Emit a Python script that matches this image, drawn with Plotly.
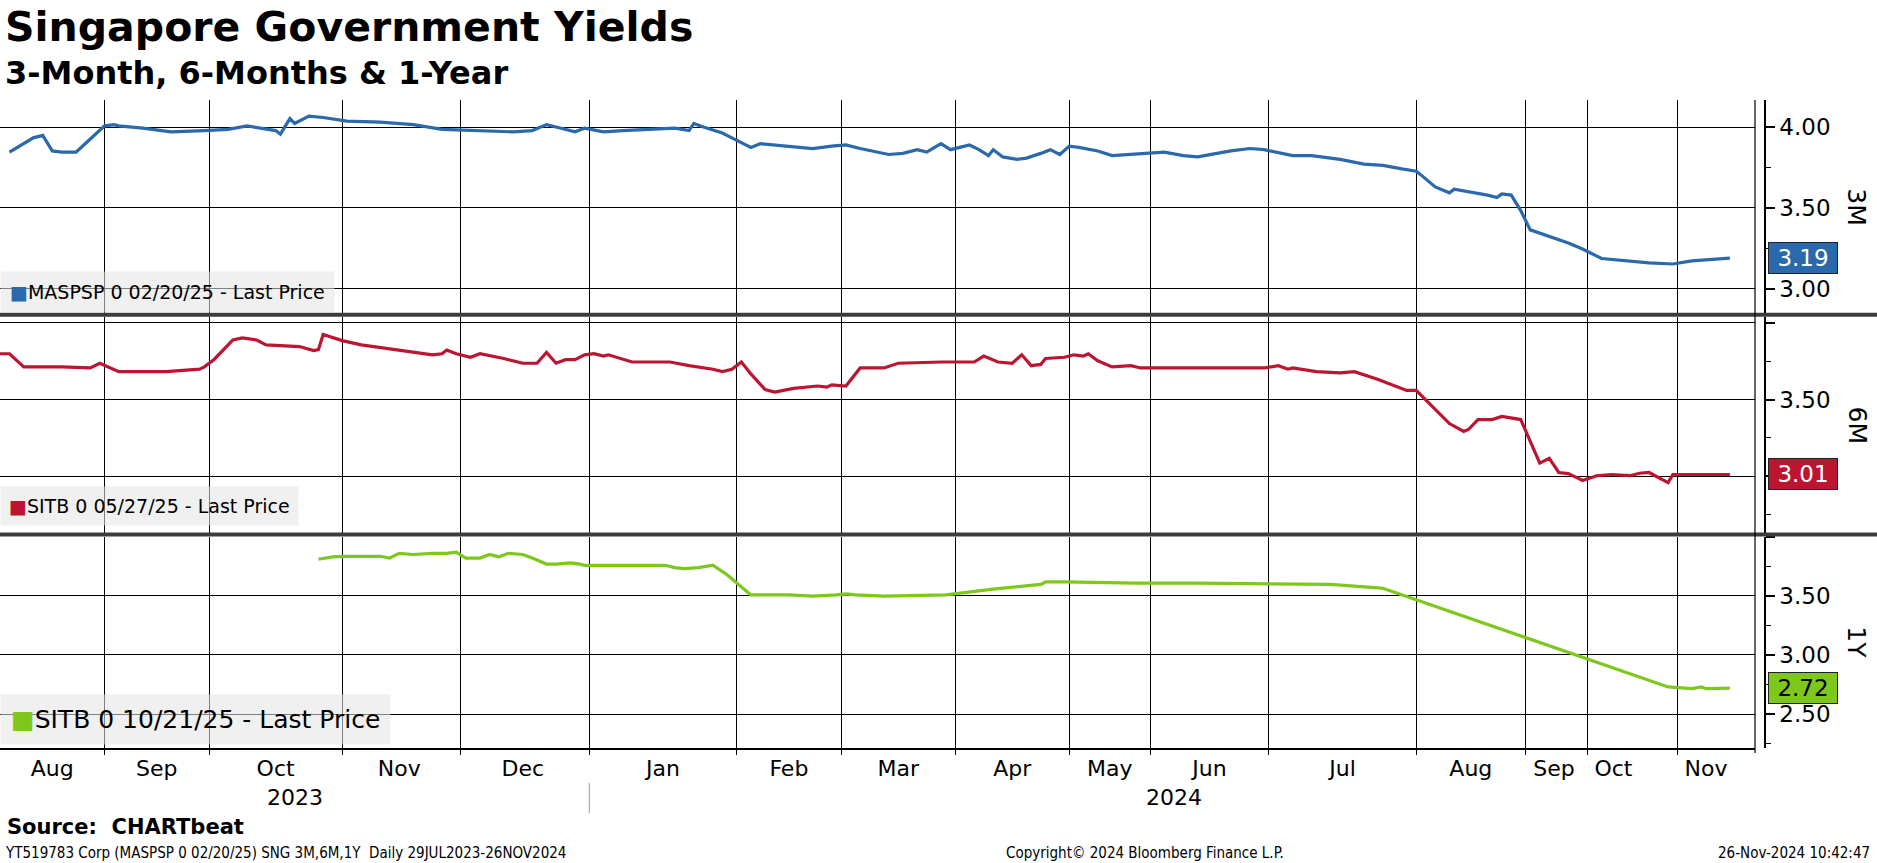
import plotly.graph_objects as go
from plotly.subplots import make_subplots

# ---------------- data ----------------
m3_dates = ["2023-07-31","2023-08-05","2023-08-07","2023-08-09","2023-08-11","2023-08-14","2023-08-17",
            "2023-09-01","2023-09-03","2023-09-04","2023-09-09","2023-09-15","2023-09-22",
            "2023-10-05","2023-10-09","2023-10-12","2023-10-15","2023-10-16","2023-10-18","2023-10-19",
            "2023-10-22","2023-10-25","2023-10-28",
            "2023-11-02","2023-11-09","2023-11-16","2023-11-22",
            "2023-12-05","2023-12-12","2023-12-16","2023-12-19","2023-12-21","2023-12-25","2023-12-27",
            "2024-01-04","2024-01-08","2024-01-14","2024-01-19","2024-01-22","2024-01-23","2024-01-25",
            "2024-01-29","2024-01-31",
            "2024-02-02","2024-02-04","2024-02-06","2024-02-12","2024-02-17","2024-02-21",
            "2024-03-02","2024-03-05","2024-03-11","2024-03-14","2024-03-17","2024-03-19","2024-03-22","2024-03-24",
            "2024-04-04","2024-04-06","2024-04-08","2024-04-09","2024-04-11","2024-04-14","2024-04-16",
            "2024-04-19","2024-04-21","2024-04-23",
            "2024-05-01","2024-05-03","2024-05-07","2024-05-10","2024-05-16",
            "2024-06-04","2024-06-08","2024-06-11","2024-06-18","2024-06-22","2024-06-25",
            "2024-07-06","2024-07-10","2024-07-16","2024-07-21","2024-07-25","2024-07-29","2024-07-31",
            "2024-08-01","2024-08-02","2024-08-05","2024-08-08","2024-08-09","2024-08-16","2024-08-18",
            "2024-08-19","2024-08-21","2024-08-23",
            "2024-09-02","2024-09-10","2024-09-13",
            "2024-10-04","2024-10-14","2024-10-19",
            "2024-11-04","2024-11-26"]
m3_vals = [3.845,3.933,3.948,3.852,3.845,3.845,3.926,
           4.007,4.015,4.007,3.993,3.970,3.978,
           3.985,4.007,3.993,3.978,3.956,4.052,4.022,
           4.067,4.059,4.044,
           4.037,4.030,4.015,3.985,
           3.978,3.970,3.978,4.015,4.000,3.970,3.993,
           3.970,3.978,3.985,3.993,3.978,4.022,4.000,
           3.963,3.933,
           3.904,3.874,3.897,3.882,3.867,3.882,
           3.889,3.867,3.830,3.837,3.860,3.845,3.897,3.860,
           3.889,3.860,3.823,3.860,3.815,3.800,3.808,
           3.837,3.860,3.830,
           3.882,3.874,3.852,3.823,3.837,
           3.845,3.823,3.815,3.852,3.867,3.860,
           3.823,3.823,3.800,3.771,3.763,3.741,3.734,
           3.727,3.704,3.630,3.593,3.616,3.579,3.564,
           3.586,3.579,3.483,
           3.364,3.283,3.246,
           3.187,3.160,3.153,
           3.172,3.19]

m6_dates = ["2023-07-29","2023-07-31","2023-08-03","2023-08-11","2023-08-17","2023-08-19",
            "2023-09-04","2023-09-14","2023-09-21","2023-09-22",
            "2023-10-02","2023-10-06","2023-10-08","2023-10-11","2023-10-13","2023-10-20","2023-10-23",
            "2023-10-24","2023-10-25",
            "2023-11-01","2023-11-05","2023-11-13","2023-11-20","2023-11-22","2023-11-23","2023-11-25",
            "2023-12-03","2023-12-05","2023-12-10","2023-12-14","2023-12-17","2023-12-19","2023-12-21",
            "2023-12-23","2023-12-25","2023-12-27",
            "2024-01-02","2024-01-04","2024-01-05","2024-01-10","2024-01-18","2024-01-22","2024-01-27",
            "2024-01-29","2024-01-31",
            "2024-02-02","2024-02-04","2024-02-07","2024-02-09","2024-02-13","2024-02-18","2024-02-20","2024-02-21",
            "2024-03-02","2024-03-05","2024-03-10","2024-03-13","2024-03-22",
            "2024-04-05","2024-04-07","2024-04-10","2024-04-13","2024-04-15","2024-04-17","2024-04-19",
            "2024-04-20","2024-04-24",
            "2024-05-02","2024-05-04","2024-05-05","2024-05-07","2024-05-10","2024-05-14","2024-05-16",
            "2024-06-03","2024-06-25",
            "2024-07-03","2024-07-05","2024-07-06","2024-07-11","2024-07-16","2024-07-19","2024-07-24","2024-07-30",
            "2024-08-01","2024-08-08","2024-08-11","2024-08-12","2024-08-14","2024-08-17","2024-08-19","2024-08-23",
            "2024-09-04","2024-09-06","2024-09-08","2024-09-10","2024-09-12","2024-09-13",
            "2024-10-03","2024-10-06","2024-10-10","2024-10-12","2024-10-14","2024-10-18","2024-10-19",
            "2024-11-02","2024-11-26"]
m6_vals = [3.799,3.799,3.713,3.713,3.706,3.737,
           3.682,3.682,3.698,3.713,
           3.760,3.889,3.903,3.889,3.857,3.846,3.820,
           3.826,3.925,
           3.885,3.857,3.820,3.792,3.799,3.823,3.799,
           3.776,3.799,3.768,3.737,3.737,3.807,3.737,
           3.760,3.760,3.792,
           3.799,3.784,3.792,3.745,3.745,3.721,3.698,
           3.682,3.698,
           3.745,3.667,3.565,3.549,3.573,3.588,3.581,3.596,
           3.588,3.706,3.706,3.737,3.745,
           3.745,3.784,3.745,3.737,3.792,3.721,3.729,
           3.768,3.776,
           3.792,3.784,3.799,3.753,3.713,3.721,3.706,
           3.706,3.706,
           3.721,3.698,3.706,3.682,3.674,3.682,3.631,3.559,
           3.559,3.343,3.291,3.304,3.369,3.369,3.389,3.369,
           3.084,3.115,3.023,3.016,2.986,2.971,
           3.002,3.010,3.002,3.018,3.023,2.957,3.010,
           3.010,3.01]

y1_dates = ["2023-10-24","2023-10-27","2023-11-01","2023-11-09","2023-11-11","2023-11-13","2023-11-16",
            "2023-11-20","2023-11-23","2023-11-25",
            "2023-12-02","2023-12-05","2023-12-07","2023-12-09","2023-12-11","2023-12-14","2023-12-16",
            "2023-12-19","2023-12-21","2023-12-24","2023-12-26","2023-12-27",
            "2024-01-08","2024-01-13","2024-01-17","2024-01-19","2024-01-21","2024-01-24","2024-01-27","2024-01-30",
            "2024-02-04","2024-02-12","2024-02-17","2024-02-22",
            "2024-03-02","2024-03-04","2024-03-10","2024-03-23",
            "2024-04-09","2024-04-19","2024-04-20","2024-04-24",
            "2024-05-15","2024-06-11","2024-06-25",
            "2024-07-14","2024-07-24","2024-07-25",
            "2024-10-18","2024-11-04","2024-11-20","2024-11-21","2024-11-26"]
y1_vals = [3.808,3.828,3.833,3.833,3.818,3.858,3.848,
           3.858,3.858,3.868,
           3.818,3.818,3.848,3.828,3.858,3.848,3.818,
           3.767,3.767,3.777,3.767,3.757,
           3.757,3.757,3.757,3.737,3.728,3.737,3.757,3.677,
           3.507,3.507,3.497,3.507,
           3.516,3.507,3.497,3.507,
           3.556,3.596,3.616,3.616,
           3.606,3.606,3.601,
           3.596,3.566,3.563,
           2.730,2.715,2.730,2.715,2.72]

series_names = ["MASPSP 0 02/20/25 - Last Price",
                "SITB 0 05/27/25 - Last Price",
                "SITB 0 10/21/25 - Last Price"]
panel_labels = ["3M", "6M", "1Y"]

# Bloomberg-style compressed calendar: periods without observations on the axis
axis_gaps = [("2023-08-20","2023-09-01"),("2023-09-23","2023-10-01"),("2023-10-29","2023-11-01"),
             ("2023-11-26","2023-12-01"),("2023-12-28","2024-01-01"),("2024-02-23","2024-03-01"),
             ("2024-03-25","2024-04-01"),("2024-04-25","2024-05-01"),("2024-05-18","2024-06-01"),
             ("2024-06-26","2024-07-01"),("2024-08-24","2024-09-01"),("2024-09-14","2024-10-01"),
             ("2024-10-20","2024-11-01"),("2024-11-05","2024-11-19")]
month_starts = ["2023-09-01","2023-10-01","2023-11-01","2023-12-01","2024-01-01","2024-02-01",
                "2024-03-01","2024-04-01","2024-05-01","2024-06-01","2024-07-01","2024-08-01",
                "2024-09-01","2024-10-01","2024-11-01"]
month_label_dates = ["2023-08-09","2023-09-12","2023-10-15","2023-11-13","2023-12-14","2024-01-16 12:00",
                     "2024-02-12","2024-03-13","2024-04-13","2024-05-09 12:00","2024-06-13 12:00",
                     "2024-07-16 12:00","2024-08-12 12:00","2024-09-07","2024-10-06 12:00","2024-11-21"]
month_labels = ["Aug","Sep","Oct","Nov","Dec","Jan","Feb","Mar","Apr","May","Jun","Jul","Aug","Sep","Oct","Nov"]
year_labels = ["2023", "2024"]
year_label_dates = ["2023-10-19", "2024-06-06"]
x_range = ["2023-07-29", "2024-12-01 07:00"]

# ---------------- styling ----------------
W, H = 1877, 863
BLUE, RED, GREEN = "#2a69ab", "#bd1531", "#7ec71c"
colors = [BLUE, RED, GREEN]
tag_text_colors = ["white", "white", "black"]
FONT = "DejaVu Sans"
NARROW = "Liberation Sans Narrow, DejaVu Sans Condensed, Liberation Sans"

def fx(p):
    return p / W

def fy(p):
    return 1 - p / H

fig = make_subplots(rows=3, cols=1, shared_xaxes=True, vertical_spacing=0.01)

all_dates = [m3_dates, m6_dates, y1_dates]
all_vals = [m3_vals, m6_vals, y1_vals]
for i in range(3):
    fig.add_trace(go.Scatter(x=all_dates[i], y=all_vals[i], mode="lines",
                             line=dict(color=colors[i], width=3.2),
                             name=series_names[i], showlegend=False),
                  row=i + 1, col=1)

# panel geometry (pixel rows of the reference)
domains = [[fy(312.7), fy(100)], [fy(532.5), fy(316.7)], [fy(748), fy(536.5)]]
ranges = [[2.852, 4.167], [2.631, 4.041], [2.214, 4.0]]
tickvals = [[3.0, 3.5, 4.0], [3.0, 3.5, 4.0], [2.5, 3.0, 3.5, 4.0]]
ticktexts = [["3.00", "3.50", "4.00"], ["", "3.50", ""], ["2.50", "3.00", "3.50", ""]]
minorvals = [[3.25, 3.75], [2.75, 3.25, 3.75], [2.25, 2.75, 3.25, 3.75]]
YPOS = fx(1765)

for i in range(3):
    key = "yaxis" if i == 0 else f"yaxis{i+1}"
    fig.layout[key].update(
        domain=domains[i], range=ranges[i], anchor="free", position=YPOS, side="right",
        showline=True, linecolor="black", linewidth=1.5,
        ticks="outside", ticklen=9, tickwidth=2, tickcolor="black",
        tickvals=tickvals[i], ticktext=ticktexts[i],
        tickfont=dict(size=23, family=FONT, color="black"),
        showgrid=True, gridcolor="black", gridwidth=1.2, zeroline=False,
        minor=dict(tickvals=minorvals[i], ticks="outside", ticklen=5, tickwidth=1.2,
                   tickcolor="black", showgrid=False),
    )

fig.update_xaxes(
    type="date", domain=[0, fx(1755)], range=x_range,
    rangebreaks=[dict(bounds=[a, b]) for a, b in axis_gaps],
    tickvals=month_label_dates, ticktext=month_labels, ticks="", showgrid=False,
    tickfont=dict(size=22, family=FONT, color="black"),
    minor=dict(tickvals=month_starts, showgrid=True, gridcolor="black", gridwidth=1.2,
               ticks="", ticklen=0),
    zeroline=False, showline=False,
)
fig.update_xaxes(showticklabels=False, row=1, col=1)
fig.update_xaxes(showticklabels=False, row=2, col=1)
fig.update_xaxes(showline=True, linecolor="black", linewidth=1.5,
                 minor=dict(ticks="outside", ticklen=5, tickcolor="black", tickwidth=1.2),
                 row=3, col=1)

annotations = []
# title / subtitle
annotations.append(dict(text="<b>Singapore Government Yields</b>", x=fx(3), y=fy(27), xref="paper", yref="paper",
                        xanchor="left", yanchor="middle", showarrow=False,
                        font=dict(size=41, family=FONT, color="black")))
annotations.append(dict(text="<b>3-Month, 6-Months & 1-Year</b>", x=fx(3), y=fy(73), xref="paper", yref="paper",
                        xanchor="left", yanchor="middle", showarrow=False,
                        font=dict(size=32, family=FONT, color="black")))
# footer
annotations.append(dict(text="<b>Source:\u00a0 CHARTbeat</b>", x=fx(5), y=fy(827), xref="paper", yref="paper",
                        xanchor="left", yanchor="middle", showarrow=False,
                        font=dict(size=21, family=FONT, color="black")))
annotations.append(dict(text="YT519783 Corp (MASPSP 0 02/20/25) SNG 3M,6M,1Y\u00a0 Daily 29JUL2023-26NOV2024",
                        x=fx(3), y=fy(853), xref="paper", yref="paper", xanchor="left", yanchor="middle",
                        showarrow=False, font=dict(size=15, family=NARROW, color="black")))
annotations.append(dict(text="Copyright\u00a9 2024 Bloomberg Finance L.P.", x=fx(1145), y=fy(853),
                        xref="paper", yref="paper", xanchor="center", yanchor="middle", showarrow=False,
                        font=dict(size=15, family=NARROW, color="black")))
annotations.append(dict(text="26-Nov-2024 10:42:47", x=fx(1872), y=fy(853), xref="paper", yref="paper",
                        xanchor="right", yanchor="middle", showarrow=False,
                        font=dict(size=15, family=NARROW, color="black")))

# legends (bottom-left box in each panel)
leg_sizes = [19, 19, 25]
leg_pads = [9, 8, 10]
leg_y = [0.0, 0.03, 0.015]
yrefs = ["y domain", "y2 domain", "y3 domain"]
for i in range(3):
    annotations.append(dict(
        text=f'<span style="color:{colors[i]}">\u25a0</span>{series_names[i]}',
        x=0, y=leg_y[i], xref="paper", yref=yrefs[i], xanchor="left", yanchor="bottom",
        showarrow=False, bgcolor="rgba(228,228,228,0.56)", borderpad=leg_pads[i],
        font=dict(size=leg_sizes[i], family=FONT, color="black")))

# last price tags and panel labels
yaxis_refs = ["y", "y2", "y3"]
for i in range(3):
    last = all_vals[i][-1]
    annotations.append(dict(
        text=f"{last:.2f}", x=fx(1768), y=last, xref="paper", yref=yaxis_refs[i],
        xanchor="left", yanchor="middle", showarrow=False, bgcolor=colors[i],
        bordercolor="#222222", borderwidth=1, borderpad=2, width=64,
        font=dict(size=23, family=FONT, color=tag_text_colors[i])))
    annotations.append(dict(
        text=panel_labels[i], x=fx(1857), y=0.5, xref="paper", yref=yrefs[i],
        xanchor="center", yanchor="middle", showarrow=False, textangle=90,
        font=dict(size=25, family=FONT, color="black")))

# year labels
for lab, d in zip(year_labels, year_label_dates):
    annotations.append(dict(text=lab, x=d, y=fy(797), xref="x3", yref="paper",
                            xanchor="center", yanchor="middle", showarrow=False,
                            font=dict(size=22, family=FONT, color="black")))

shapes = [
    # panel separators
    dict(type="rect", xref="paper", yref="paper", x0=0, x1=1, y0=fy(316.7), y1=fy(312.7),
         fillcolor="#3c3c3c", line=dict(width=0), layer="above"),
    dict(type="rect", xref="paper", yref="paper", x0=0, x1=1, y0=fy(536.5), y1=fy(532.5),
         fillcolor="#3c3c3c", line=dict(width=0), layer="above"),
    # right edge of plotting area
    dict(type="line", xref="paper", yref="paper", x0=fx(1755), x1=fx(1755), y0=fy(753), y1=fy(100),
         line=dict(color="black", width=1.2)),
    # year divider
    dict(type="line", xref="x3", yref="paper", x0="2024-01-01", x1="2024-01-01", y0=fy(813), y1=fy(783),
         line=dict(color="#999999", width=1)),
]

fig.update_layout(
    width=W, height=H, margin=dict(l=0, r=0, t=0, b=0),
    paper_bgcolor="white", plot_bgcolor="white", showlegend=False,
    font=dict(family=FONT, color="black"),
    annotations=annotations, shapes=shapes,
)

fig.write_html("out.html", config={"displayModeBar": False},
               post_script="document.body.style.margin='0';")
